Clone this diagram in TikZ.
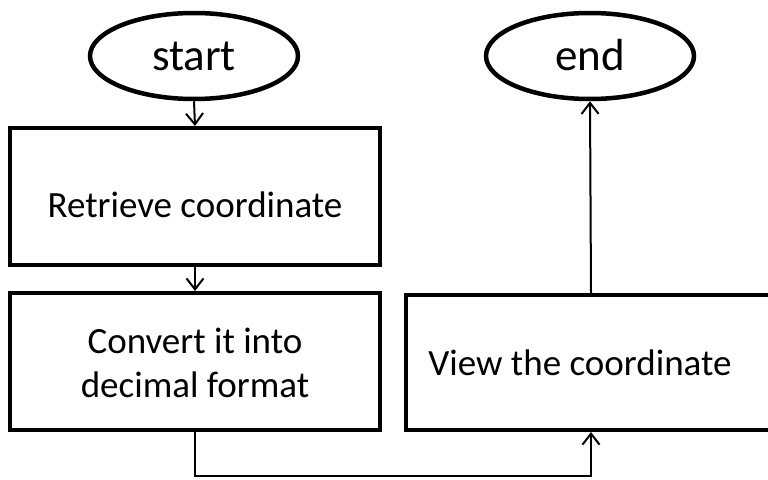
\documentclass[tikz,border=0pt]{standalone}
\usepackage{fontspec}
\setmainfont{Carlito}
\usetikzlibrary{shapes.geometric,arrows.meta}
\begin{document}
\begin{tikzpicture}[x=1pt,y=-1pt,
  terminal/.style={draw,line width=4.5pt,ellipse,minimum width=208pt,minimum height=86pt,inner sep=0pt,font=\fontsize{45}{50}\selectfont},
  stepbox/.style={draw,line width=4pt,rectangle,inner sep=0pt},
  label/.style={font=\fontsize{37}{44}\selectfont,align=center,inner sep=0pt,anchor=base},
  flow/.style={line width=2pt,-{Straight Barb[length=11pt,width=17pt,line width=2pt]}}]
  \useasboundingbox (0,0) rectangle (768,479);
  \clip (0,0) rectangle (768,479);

  % terminals
  \node[terminal] (start) at (194,56) {};
  \node[label,font=\fontsize{45}{50}\selectfont] at (194,70) {start};
  \node[terminal] (end) at (590,56) {};
  \node[label,font=\fontsize{45}{50}\selectfont] at (590,70) {end};

  % process boxes
  \node[stepbox,minimum width=370pt,minimum height=137pt] (retrieve) at (195,196.5) {};
  \node[label] at (195,217) {Retrieve coordinate};
  \node[stepbox,minimum width=370pt,minimum height=137pt] (convert) at (195,361.5) {};
  \node[label] at (195,353) {Convert it into};
  \node[label] at (195,397) {decimal format};
  \node[stepbox,minimum width=370pt,minimum height=135pt] (view) at (591,362.5) {};
  \node[label] at (580,375) {View the coordinate};

  % connectors
  \coordinate (c1) at (195,476);
  \coordinate (c2) at (591,476);
  \draw[flow] (start.south) -- (retrieve.north);
  \draw[flow] (retrieve.south) -- (convert.north);
  \draw[flow] (convert.south) -- (c1) -- (c2) -- (view.south);
  \draw[flow] (view.north) -- (end.south);
\end{tikzpicture}
\end{document}
